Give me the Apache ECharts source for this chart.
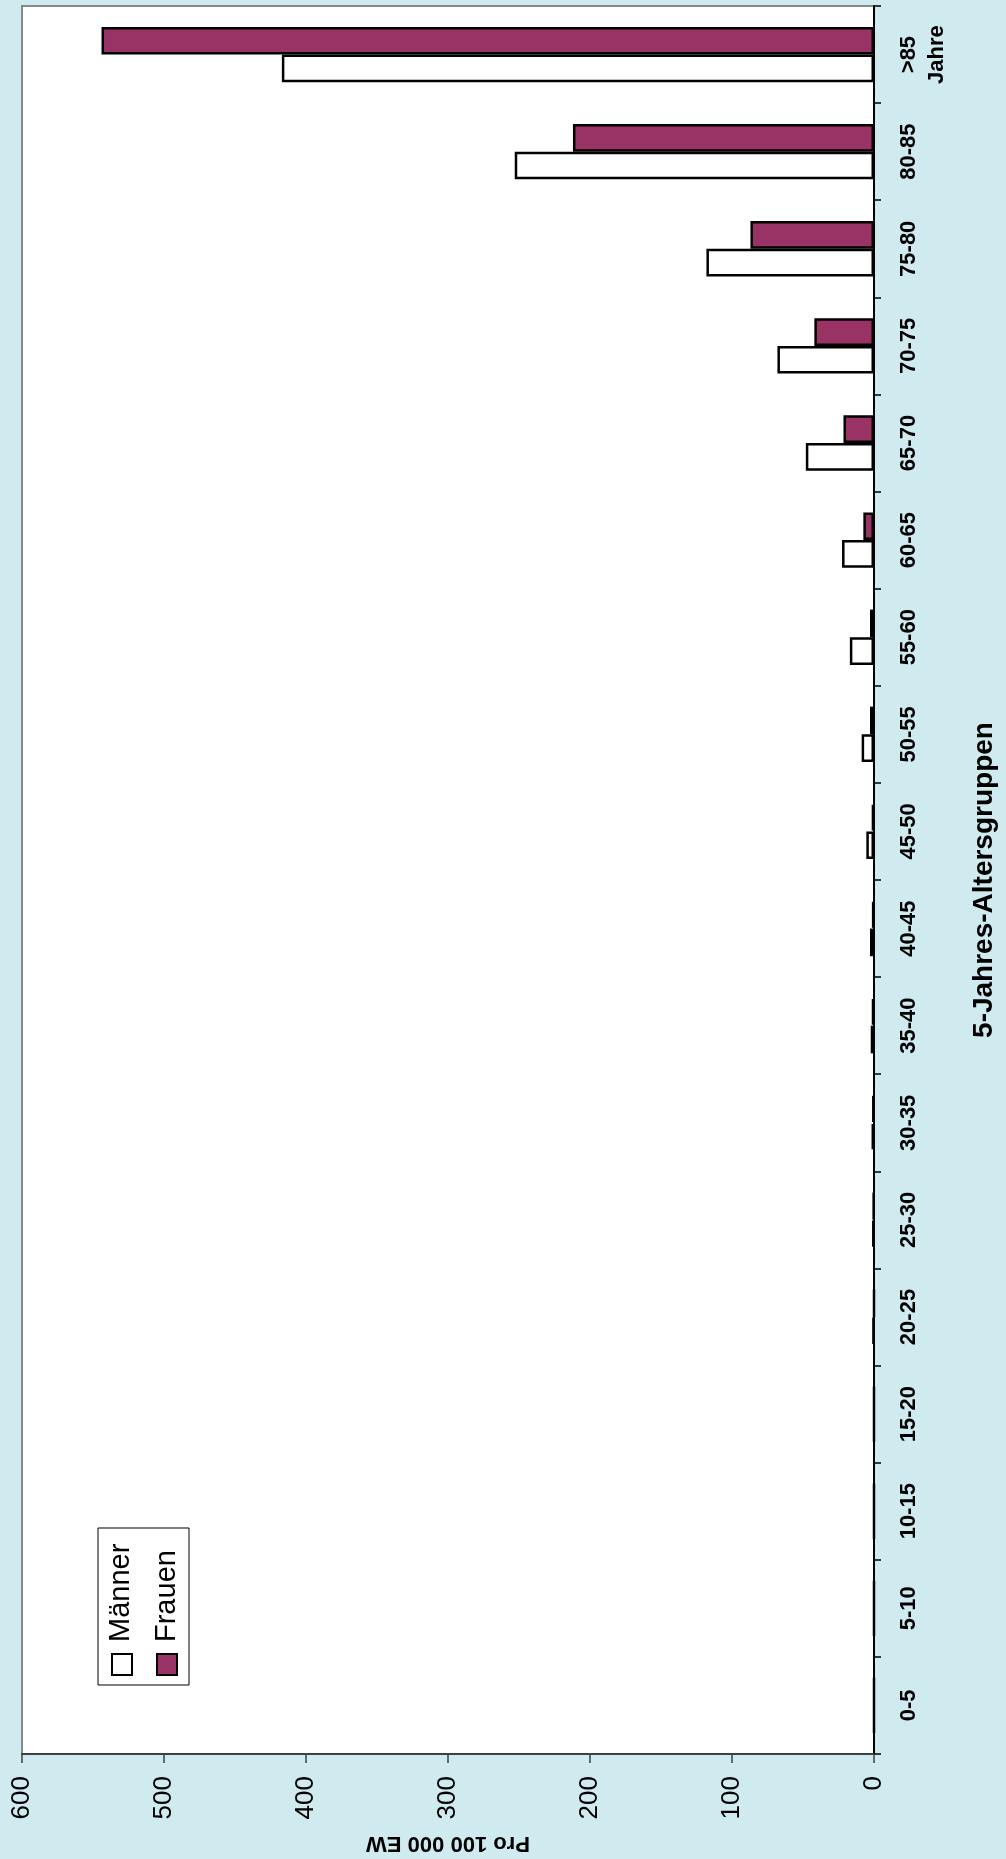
<!DOCTYPE html>
<html>
<head>
<meta charset="utf-8">
<script src="https://cdn.jsdelivr.net/npm/echarts@6/dist/echarts.min.js"></script>
<style>
html,body{margin:0;padding:0;overflow:hidden;background:#cfebf0;}
#chart{width:1006px;height:1859px;}
</style>
</head>
<body>
<div id="chart"></div>
<script>
// Age groups (bottom to top)
const categories = ['0-5','5-10','10-15','15-20','20-25','25-30','30-35','35-40','40-45','45-50','50-55','55-60','60-65','65-70','70-75','75-80','80-85','>85\nJahre'];
// Pro 100 000 EW
const maenner = [0, 0, 0, 0, 0.8, 1.0, 1.7, 2.3, 2.8, 5.4, 8.7, 17, 22.5, 48, 68, 118, 253, 417];
const frauen  = [0, 0, 0, 0, 0, 0.5, 1.0, 1.4, 1.2, 1.5, 2.8, 2.8, 7.5, 21.5, 42, 87, 212, 544];
const seriesNames = ['Männer', 'Frauen'];
const valueAxisTitle = 'Pro 100 000 EW';
const categoryAxisTitle = '5-Jahres-Altersgruppen';

const FONT = "'Liberation Sans', Arial, sans-serif";
const chart = echarts.init(document.getElementById('chart'));
chart.setOption({
  backgroundColor: '#cfebf0',
  animation: false,
  grid: {
    left: 22, right: 132, top: 6, bottom: 105,
    show: true, backgroundColor: '#ffffff', borderColor: '#888888', borderWidth: 2
  },
  xAxis: {
    type: 'value', inverse: true, min: 0, max: 600, interval: 100,
    position: 'bottom',
    axisLine: { show: true, lineStyle: { color: '#404040', width: 2 } },
    axisTick: { show: true, length: 9, lineStyle: { color: '#404040', width: 1.5 } },
    splitLine: { show: false },
    axisLabel: { rotate: 90, margin: 22, fontSize: 26, color: '#000', fontFamily: FONT },
    name: valueAxisTitle, nameLocation: 'middle', nameRotate: 180, nameGap: 78,
    nameTextStyle: { fontSize: 22, fontWeight: 'bold', color: '#000', fontFamily: FONT }
  },
  yAxis: {
    type: 'category', data: categories, position: 'right',
    axisLine: { show: true, lineStyle: { color: '#000', width: 2 } },
    axisTick: { show: true, length: 7, lineStyle: { color: '#000', width: 1.5 } },
    axisLabel: { rotate: 90, interval: 0, margin: 21, fontSize: 22, fontWeight: 'bold', lineHeight: 28, color: '#000', fontFamily: FONT },
    name: categoryAxisTitle, nameLocation: 'middle', nameRotate: 90, nameGap: 96,
    nameTextStyle: { fontSize: 28, fontWeight: 'bold', color: '#000', fontFamily: FONT }
  },
  series: [
    { name: seriesNames[1], type: 'bar', data: frauen, barGap: '0%', barCategoryGap: '43%',
      itemStyle: { color: '#993366', borderColor: '#000', borderWidth: 2.5 } },
    { name: seriesNames[0], type: 'bar', data: maenner, barGap: '0%', barCategoryGap: '43%',
      itemStyle: { color: '#ffffff', borderColor: '#000', borderWidth: 2.5 } }
  ],
  graphic: [
    { type: 'rect', shape: { x: 98, y: 1528, width: 91, height: 157 },
      style: { fill: '#fff', stroke: '#000', lineWidth: 1 } },
    { type: 'rect', shape: { x: 112, y: 1654, width: 20, height: 21 },
      style: { fill: '#fff', stroke: '#000', lineWidth: 2 } },
    { type: 'rect', shape: { x: 157, y: 1654, width: 20, height: 21 },
      style: { fill: '#993366', stroke: '#000', lineWidth: 2 } },
    { type: 'text', x: 121, y: 1642, rotation: Math.PI / 2,
      style: { text: seriesNames[0], fontSize: 29, fontFamily: FONT, fill: '#000', align: 'left', verticalAlign: 'middle' } },
    { type: 'text', x: 167, y: 1642, rotation: Math.PI / 2,
      style: { text: seriesNames[1], fontSize: 29, fontFamily: FONT, fill: '#000', align: 'left', verticalAlign: 'middle' } }
  ]
});
</script>
</body>
</html>
